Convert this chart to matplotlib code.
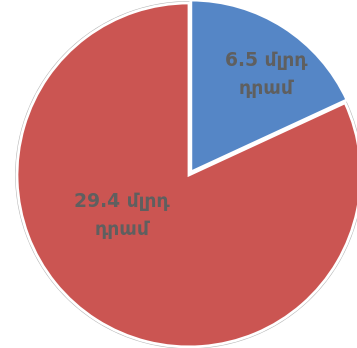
import matplotlib
matplotlib.use("Agg")
import matplotlib.pyplot as plt

labels = ["6.5 մլրդ\nդրամ", "29.4 մլրդ\nդրամ"]
values = [6.5, 29.4]
colors = ["#5586C6", "#CB5552"]

fig = plt.figure(figsize=(3.57, 3.48), dpi=100)
ax = fig.add_axes([0, 0, 1, 1])
wedges, _ = ax.pie(values, colors=colors, startangle=90, counterclock=False,
                   explode=[0.02, 0.0], radius=1.0,
                   wedgeprops=dict(edgecolor="white", linewidth=2.0))
# subtle outer rim
outer = plt.Circle((0, 0), 1.005, fill=False, edgecolor="#B8B8B8", linewidth=1.5, zorder=0)
ax.add_patch(outer)

label_pos = [(0.45, 0.585), (-0.39, -0.235)]
for txt, (x, y) in zip(labels, label_pos):
    ax.text(x, y, txt, ha="center", va="center", fontsize=13.5, fontweight="bold",
            color="#5F5F5F", family=["DejaVu Sans"], linespacing=1.6)

ax.set_xlim(-1.099, 0.977)
ax.set_ylim(-1.006, 1.017)
ax.set_aspect("equal")
ax.axis("off")
fig.savefig("out.png", dpi=100)
